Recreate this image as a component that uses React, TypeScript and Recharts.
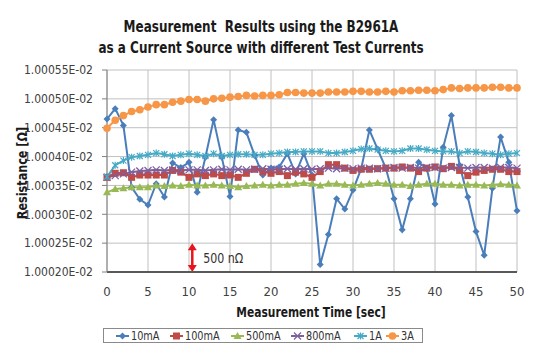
import React from 'react';
import {
  LineChart,
  Line,
  XAxis,
  YAxis,
  CartesianGrid,
  ReferenceLine,
} from 'recharts';

const FONT = "'Liberation Sans Narrow', 'Arial Narrow', 'DejaVu Sans Condensed', sans-serif";

const times = [
  0, 1, 2, 3, 4, 5, 6, 7, 8, 9, 10, 11, 12, 13, 14, 15, 16, 17, 18, 19, 20, 21, 22, 23, 24, 25,
  26, 27, 28, 29, 30, 31, 32, 33, 34, 35, 36, 37, 38, 39, 40, 41, 42, 43, 44, 45, 46, 47, 48, 49, 50,
];

// resistance in units of E-02 ohm
const r10mA = [
  1.000465, 1.000483, 1.000454, 1.000347, 1.000326, 1.000316, 1.000353, 1.00033, 1.000389, 1.000381,
  1.00039, 1.000338, 1.000399, 1.000464, 1.000399, 1.000331, 1.000446, 1.000442, 1.000402, 1.000368,
  1.00038, 1.000382, 1.000405, 1.00037, 1.000405, 1.000368, 1.000213, 1.000265, 1.000327, 1.000309,
  1.000342, 1.000379, 1.000446, 1.000413, 1.00038, 1.000327, 1.000273, 1.000327, 1.00039, 1.000379,
  1.000318, 1.000416, 1.000471, 1.000385, 1.00033, 1.00027, 1.000229, 1.000345, 1.000434, 1.00039,
  1.000306,
];
const r100mA = [
  1.000364, 1.000371, 1.000372, 1.000364, 1.000368, 1.000368, 1.000368, 1.000368, 1.000376, 1.000373,
  1.000364, 1.00037, 1.000367, 1.00037, 1.000367, 1.000368, 1.000364, 1.000371, 1.000378, 1.000374,
  1.000371, 1.000374, 1.000367, 1.000373, 1.00037, 1.000364, 1.000374, 1.000386, 1.000386, 1.00038,
  1.000376, 1.000378, 1.000378, 1.000379, 1.00038, 1.00038, 1.000382, 1.00038, 1.000374, 1.00038,
  1.000382, 1.000379, 1.000383, 1.000376, 1.000367, 1.000373, 1.000376, 1.000378, 1.000378, 1.000374,
  1.000374,
];
const r500mA = [
  1.000338, 1.000344, 1.000345, 1.000347, 1.000347, 1.000347, 1.00035, 1.000349, 1.00035, 1.000349,
  1.000351, 1.00035, 1.00035, 1.000351, 1.00035, 1.000349, 1.000347, 1.000349, 1.00035, 1.000351,
  1.00035, 1.000351, 1.000351, 1.000353, 1.000354, 1.000353, 1.00035, 1.000353, 1.000353, 1.000351,
  1.00035, 1.000351, 1.000353, 1.000354, 1.000353, 1.000351, 1.000351, 1.000349, 1.000351, 1.000353,
  1.000353, 1.000351, 1.000351, 1.00035, 1.000351, 1.000351, 1.00035, 1.000351, 1.000352, 1.000351,
  1.00035,
];
const r800mA = [
  1.000364, 1.000367, 1.00037, 1.000373, 1.000375, 1.000376, 1.000377, 1.000376, 1.000377, 1.000376,
  1.000377, 1.000377, 1.000376, 1.000377, 1.000378, 1.000377, 1.000378, 1.000377, 1.000378, 1.000379,
  1.000378, 1.000378, 1.000379, 1.000378, 1.000379, 1.000378, 1.000379, 1.00038, 1.000379, 1.00038,
  1.000379, 1.00038, 1.00038, 1.000379, 1.00038, 1.000381, 1.00038, 1.000381, 1.00038, 1.000381,
  1.000381, 1.00038, 1.000381, 1.000381, 1.00038, 1.000381, 1.000381, 1.00038, 1.000381, 1.000381,
  1.00038,
];
const r1A = [
  1.000365, 1.000385, 1.000393, 1.000399, 1.000401, 1.000403, 1.000406, 1.000404, 1.000401, 1.000403,
  1.000405, 1.000403, 1.000401, 1.000405, 1.000401, 1.000403, 1.000404, 1.000404, 1.000403, 1.000403,
  1.000405, 1.000406, 1.000408, 1.000408, 1.000409, 1.000409, 1.000409, 1.000406, 1.000406, 1.000408,
  1.00041, 1.000413, 1.000414, 1.000412, 1.00041, 1.000409, 1.00041, 1.000414, 1.000414, 1.000412,
  1.00041, 1.000409, 1.000409, 1.000406, 1.000409, 1.000408, 1.000406, 1.000405, 1.000403, 1.000405,
  1.000406,
];
const r3A = [
  1.000449, 1.000463, 1.000471, 1.000478, 1.000481, 1.000486, 1.00049, 1.00049, 1.000494, 1.000496,
  1.000499, 1.000499, 1.000496, 1.0005, 1.000501, 1.000503, 1.000504, 1.000506, 1.000505, 1.000506,
  1.000506, 1.000507, 1.000511, 1.000511, 1.00051, 1.00051, 1.00051, 1.000512, 1.000512, 1.000512,
  1.000513, 1.000513, 1.000512, 1.000512, 1.000513, 1.000512, 1.000514, 1.000514, 1.000515, 1.000515,
  1.000514, 1.000516, 1.000519, 1.000518, 1.000519, 1.000519, 1.000519, 1.00052, 1.00052, 1.000519,
  1.000519,
];

const yTicks = [1.0002, 1.00025, 1.0003, 1.00035, 1.0004, 1.00045, 1.0005, 1.00055];
const xTicks = [0, 5, 10, 15, 20, 25, 30, 35, 40, 45, 50];

const data = times.map((t, i) => ({
  t,
  s10mA: r10mA[i],
  s100mA: r100mA[i],
  s500mA: r500mA[i],
  s800mA: r800mA[i],
  s1A: r1A[i],
  s3A: r3A[i],
}));

type Marker = 'diamond' | 'square' | 'triangle' | 'cross' | 'star' | 'circle';

const seriesList: { key: string; name: string; color: string; marker: Marker }[] = [
  { key: 's10mA', name: '10mA', color: '#4A7EBB', marker: 'diamond' },
  { key: 's100mA', name: '100mA', color: '#BE4B48', marker: 'square' },
  { key: 's500mA', name: '500mA', color: '#98B954', marker: 'triangle' },
  { key: 's800mA', name: '800mA', color: '#7D60A0', marker: 'cross' },
  { key: 's1A', name: '1A', color: '#46AAC5', marker: 'star' },
  { key: 's3A', name: '3A', color: '#F79646', marker: 'circle' },
];

// legend item x offsets inside the box
const legendPos = [12, 66, 127, 187, 250, 282];

const drawMarker = (m: Marker, cx: number, cy: number, color: string, k?: string) => {
  switch (m) {
    case 'diamond':
      return (
        <polygon key={k} points={`${cx},${cy - 3.5} ${cx + 3.5},${cy} ${cx},${cy + 3.5} ${cx - 3.5},${cy}`} fill={color} />
      );
    case 'square':
      return <rect key={k} x={cx - 3.5} y={cy - 3.5} width={7} height={7} fill={color} />;
    case 'triangle':
      return (
        <polygon key={k} points={`${cx},${cy - 4} ${cx + 4},${cy + 3} ${cx - 4},${cy + 3}`} fill={color} />
      );
    case 'cross':
      return (
        <g key={k} stroke={color} strokeWidth={1.3}>
          <line x1={cx - 3.5} y1={cy - 3.5} x2={cx + 3.5} y2={cy + 3.5} />
          <line x1={cx - 3.5} y1={cy + 3.5} x2={cx + 3.5} y2={cy - 3.5} />
        </g>
      );
    case 'star':
      return (
        <g key={k} stroke={color} strokeWidth={1.2}>
          <line x1={cx - 3} y1={cy - 3} x2={cx + 3} y2={cy + 3} />
          <line x1={cx - 3} y1={cy + 3} x2={cx + 3} y2={cy - 3} />
          <line x1={cx} y1={cy - 3.5} x2={cx} y2={cy + 3.5} />
        </g>
      );
    default:
      return <circle key={k} cx={cx} cy={cy} r={3.8} fill={color} />;
  }
};

const ArrowShape = (props: any) => {
  const { x1, y1, x2, y2 } = props;
  if (x1 == null || y1 == null) return null;
  const top = Math.min(y1, y2);
  const bot = Math.max(y1, y2);
  const c = '#E8141B';
  return (
    <g>
      <line x1={x1} y1={top + 5} x2={x2} y2={bot - 5} stroke={c} strokeWidth={2.5} />
      <polygon points={`${x1},${top} ${x1 + 4.5},${top + 7} ${x1 - 4.5},${top + 7}`} fill={c} />
      <polygon points={`${x1},${bot} ${x1 + 4.5},${bot - 7} ${x1 - 4.5},${bot - 7}`} fill={c} />
      <text
        x={x1 + 11}
        y={(top + bot) / 2 + 5}
        fontFamily={FONT}
        fontSize={14.5}
        fill="#333"
        textLength={40}
        lengthAdjust="spacingAndGlyphs"
      >
        500 nΩ
      </text>
    </g>
  );
};

export default function App() {
  return (
    <div style={{ position: 'absolute', left: 0, top: 0, width: 535, height: 354, background: '#fff', fontFamily: FONT }}>
      <div
        style={{
          position: 'absolute',
          left: 0,
          width: 522,
          top: 17,
          textAlign: 'center',
          fontWeight: 'bold',
          fontSize: 15.5,
          lineHeight: '21px',
          color: '#1a1a1a',
          transform: 'scaleX(0.86)',
          transformOrigin: '261px 0',
        }}
      >
        Measurement&nbsp; Results using the B2961A
        <br />
        as a Current Source with different Test Currents
      </div>
      <LineChart
        width={535}
        height={354}
        data={data}
        margin={{ top: 70, right: 18, left: 0, bottom: 52 }}
      >
        <CartesianGrid stroke="#C0C0C0" strokeWidth={1} />
        <XAxis
          dataKey="t"
          type="number"
          domain={[0, 50]}
          ticks={xTicks}
          height={30}
          tickSize={0}
          tickMargin={15}
          axisLine={{ stroke: '#595959', strokeWidth: 2 }}
          tick={{ fontFamily: FONT, fontSize: 13, fill: '#404040' }}
        />
        <YAxis
          type="number"
          domain={[1.0002, 1.00055]}
          ticks={yTicks}
          width={107}
          tickSize={5}
          tickMargin={9}
          allowDataOverflow
          axisLine={{ stroke: '#808080' }}
          tickLine={{ stroke: '#808080' }}
          tickFormatter={(v: number) => v.toFixed(5) + 'E-02'}
          tick={{ fontFamily: FONT, fontSize: 12, fill: '#404040' }}
        />
        <ReferenceLine
          segment={[
            { x: 10.4, y: 1.0002 },
            { x: 10.4, y: 1.00025 },
          ]}
          shape={ArrowShape}
          ifOverflow="visible"
        />
        {seriesList.map((s) => (
          <Line
            key={s.key}
            dataKey={s.key}
            name={s.name}
            type="linear"
            stroke={s.color}
            strokeWidth={2}
            isAnimationActive={false}
            dot={(p: any) => drawMarker(s.marker, p.cx, p.cy, s.color, `${s.key}-${p.index}`)}
            activeDot={false}
          />
        ))}
      </LineChart>
      <div style={{ position: 'absolute', left: 22, top: 173, width: 0, height: 0 }}>
        <div
          style={{
            position: 'absolute',
            left: 0,
            top: 0,
            transform: 'translate(-50%, -50%) rotate(-90deg) scaleX(0.86)',
            whiteSpace: 'nowrap',
            fontWeight: 'bold',
            fontSize: 14.5,
            lineHeight: '16px',
            color: '#1a1a1a',
          }}
        >
          Resistance [Ω]
        </div>
      </div>
      <div
        style={{
          position: 'absolute',
          left: 161,
          width: 300,
          top: 304,
          textAlign: 'center',
          fontWeight: 'bold',
          fontSize: 14.5,
          color: '#1a1a1a',
          transform: 'scaleX(0.82)',
          transformOrigin: '150px 0',
        }}
      >
        Measurement Time [sec]
      </div>
      <div
        style={{
          position: 'absolute',
          left: 103,
          top: 328,
          width: 320,
          height: 15,
          border: '1px solid #8a8a8a',
          boxSizing: 'border-box',
          fontSize: 12,
          color: '#333',
        }}
      >
        {seriesList.map((s, i) => (
          <div
            key={s.key}
            style={{
              position: 'absolute',
              left: legendPos[i],
              top: 0,
              height: 13,
              display: 'flex',
              alignItems: 'center',
              whiteSpace: 'nowrap',
            }}
          >
            <svg width={13} height={10}>
              <line x1={0} y1={5} x2={13} y2={5} stroke={s.color} strokeWidth={2} />
              {drawMarker(s.marker, 6.5, 5, s.color)}
            </svg>
            <span style={{ marginLeft: 2, display: 'inline-block', transform: 'scaleX(0.9)', transformOrigin: '0 50%' }}>
              {s.name}
            </span>
          </div>
        ))}
      </div>
    </div>
  );
}
